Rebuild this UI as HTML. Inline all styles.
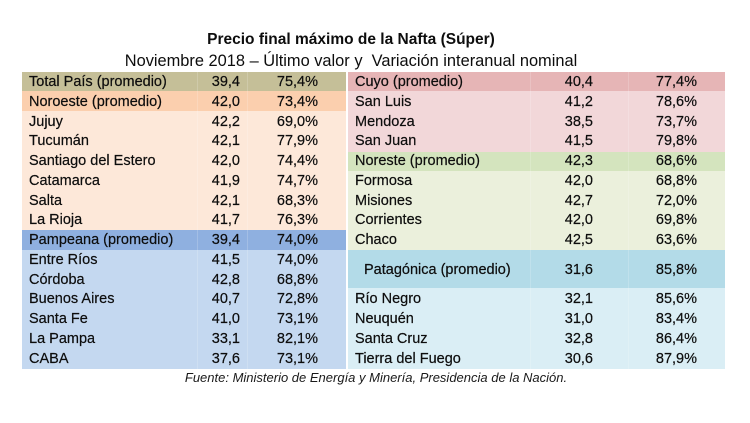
<!DOCTYPE html>
<html><head><meta charset="utf-8">
<style>
html,body{margin:0;padding:0;background:#fff;}
body{width:750px;height:423px;position:relative;overflow:hidden;font-family:"Liberation Sans",Arial,sans-serif;color:#0d0d0d;}
.t{position:absolute;white-space:nowrap;}
.bg{position:absolute;}
.r{position:absolute;height:20px;line-height:21px;font-size:14.5px;white-space:nowrap;-webkit-text-stroke:0.2px #0d0d0d;}
.n{position:absolute;}
.v{position:absolute;text-align:right;}
.vl{position:absolute;width:1px;background:rgba(255,255,255,0.18);}
</style></head><body>

<div class="t" style="left:0;width:702px;top:31px;text-align:center;font-weight:bold;font-size:15.5px;line-height:18px;">Precio final máximo de la Nafta (Súper)</div>
<div class="t" style="left:0;width:702px;top:52px;text-align:center;font-size:16.4px;line-height:19px;">Noviembre 2018 – Último valor y&nbsp; Variación interanual nominal</div>

<!-- Left table backgrounds -->
<div class="bg" style="left:22px;top:72px;width:324px;height:19px;background:#c5bf98;"></div>
<div class="bg" style="left:22px;top:91px;width:324px;height:20px;background:#fbcfae;"></div>
<div class="bg" style="left:22px;top:111px;width:324px;height:119px;background:#fde8d9;"></div>
<div class="bg" style="left:22px;top:230px;width:324px;height:20px;background:#8fb0e0;"></div>
<div class="bg" style="left:22px;top:250px;width:324px;height:119px;background:#c4d8f0;"></div>

<!-- Right table backgrounds -->
<div class="bg" style="left:348px;top:72px;width:377px;height:19px;background:#e6b5b6;"></div>
<div class="bg" style="left:348px;top:91px;width:377px;height:61px;background:#f2d7d9;"></div>
<div class="bg" style="left:348px;top:152px;width:377px;height:19px;background:#d4e4be;"></div>
<div class="bg" style="left:348px;top:171px;width:377px;height:79px;background:#ebf0dc;"></div>
<div class="bg" style="left:348px;top:250px;width:377px;height:38px;background:#b3dbe8;"></div>
<div class="bg" style="left:348px;top:288px;width:377px;height:81px;background:#daeef5;"></div>

<!-- faint column lines -->
<div class="vl" style="left:197px;top:72px;height:297px;"></div>
<div class="vl" style="left:247px;top:72px;height:297px;"></div>
<div class="vl" style="left:530px;top:72px;height:297px;"></div>
<div class="vl" style="left:628px;top:72px;height:297px;"></div>

<!-- Left rows -->
<div class="r" style="top:72px;"><span class="n" style="left:29px;">Total País (promedio)</span><span class="v" style="left:180px;width:60px;">39,4</span><span class="v" style="left:250px;width:68px;">75,4%</span></div>
<div class="r" style="top:91.8px;"><span class="n" style="left:29px;">Noroeste (promedio)</span><span class="v" style="left:180px;width:60px;">42,0</span><span class="v" style="left:250px;width:68px;">73,4%</span></div>
<div class="r" style="top:111.5px;"><span class="n" style="left:29px;">Jujuy</span><span class="v" style="left:180px;width:60px;">42,2</span><span class="v" style="left:250px;width:68px;">69,0%</span></div>
<div class="r" style="top:131.3px;"><span class="n" style="left:29px;">Tucumán</span><span class="v" style="left:180px;width:60px;">42,1</span><span class="v" style="left:250px;width:68px;">77,9%</span></div>
<div class="r" style="top:151px;"><span class="n" style="left:29px;">Santiago del Estero</span><span class="v" style="left:180px;width:60px;">42,0</span><span class="v" style="left:250px;width:68px;">74,4%</span></div>
<div class="r" style="top:170.8px;"><span class="n" style="left:29px;">Catamarca</span><span class="v" style="left:180px;width:60px;">41,9</span><span class="v" style="left:250px;width:68px;">74,7%</span></div>
<div class="r" style="top:190.5px;"><span class="n" style="left:29px;">Salta</span><span class="v" style="left:180px;width:60px;">42,1</span><span class="v" style="left:250px;width:68px;">68,3%</span></div>
<div class="r" style="top:210.3px;"><span class="n" style="left:29px;">La Rioja</span><span class="v" style="left:180px;width:60px;">41,7</span><span class="v" style="left:250px;width:68px;">76,3%</span></div>
<div class="r" style="top:230px;"><span class="n" style="left:29px;">Pampeana (promedio)</span><span class="v" style="left:180px;width:60px;">39,4</span><span class="v" style="left:250px;width:68px;">74,0%</span></div>
<div class="r" style="top:249.8px;"><span class="n" style="left:29px;">Entre Ríos</span><span class="v" style="left:180px;width:60px;">41,5</span><span class="v" style="left:250px;width:68px;">74,0%</span></div>
<div class="r" style="top:269.5px;"><span class="n" style="left:29px;">Córdoba</span><span class="v" style="left:180px;width:60px;">42,8</span><span class="v" style="left:250px;width:68px;">68,8%</span></div>
<div class="r" style="top:289.3px;"><span class="n" style="left:29px;">Buenos Aires</span><span class="v" style="left:180px;width:60px;">40,7</span><span class="v" style="left:250px;width:68px;">72,8%</span></div>
<div class="r" style="top:309px;"><span class="n" style="left:29px;">Santa Fe</span><span class="v" style="left:180px;width:60px;">41,0</span><span class="v" style="left:250px;width:68px;">73,1%</span></div>
<div class="r" style="top:328.8px;"><span class="n" style="left:29px;">La Pampa</span><span class="v" style="left:180px;width:60px;">33,1</span><span class="v" style="left:250px;width:68px;">82,1%</span></div>
<div class="r" style="top:348.5px;"><span class="n" style="left:29px;">CABA</span><span class="v" style="left:180px;width:60px;">37,6</span><span class="v" style="left:250px;width:68px;">73,1%</span></div>

<!-- Right rows -->
<div class="r" style="top:72px;"><span class="n" style="left:355px;">Cuyo (promedio)</span><span class="v" style="left:533px;width:60px;">40,4</span><span class="v" style="left:629px;width:68px;">77,4%</span></div>
<div class="r" style="top:91.8px;"><span class="n" style="left:355px;">San Luis</span><span class="v" style="left:533px;width:60px;">41,2</span><span class="v" style="left:629px;width:68px;">78,6%</span></div>
<div class="r" style="top:111.5px;"><span class="n" style="left:355px;">Mendoza</span><span class="v" style="left:533px;width:60px;">38,5</span><span class="v" style="left:629px;width:68px;">73,7%</span></div>
<div class="r" style="top:131.3px;"><span class="n" style="left:355px;">San Juan</span><span class="v" style="left:533px;width:60px;">41,5</span><span class="v" style="left:629px;width:68px;">79,8%</span></div>
<div class="r" style="top:151px;"><span class="n" style="left:355px;">Noreste (promedio)</span><span class="v" style="left:533px;width:60px;">42,3</span><span class="v" style="left:629px;width:68px;">68,6%</span></div>
<div class="r" style="top:170.8px;"><span class="n" style="left:355px;">Formosa</span><span class="v" style="left:533px;width:60px;">42,0</span><span class="v" style="left:629px;width:68px;">68,8%</span></div>
<div class="r" style="top:190.5px;"><span class="n" style="left:355px;">Misiones</span><span class="v" style="left:533px;width:60px;">42,7</span><span class="v" style="left:629px;width:68px;">72,0%</span></div>
<div class="r" style="top:210.3px;"><span class="n" style="left:355px;">Corrientes</span><span class="v" style="left:533px;width:60px;">42,0</span><span class="v" style="left:629px;width:68px;">69,8%</span></div>
<div class="r" style="top:230px;"><span class="n" style="left:355px;">Chaco</span><span class="v" style="left:533px;width:60px;">42,5</span><span class="v" style="left:629px;width:68px;">63,6%</span></div>
<div class="r" style="top:259.5px;"><span class="n" style="left:364px;">Patagónica (promedio)</span><span class="v" style="left:533px;width:60px;">31,6</span><span class="v" style="left:629px;width:68px;">85,8%</span></div>
<div class="r" style="top:289.3px;"><span class="n" style="left:355px;">Río Negro</span><span class="v" style="left:533px;width:60px;">32,1</span><span class="v" style="left:629px;width:68px;">85,6%</span></div>
<div class="r" style="top:309px;"><span class="n" style="left:355px;">Neuquén</span><span class="v" style="left:533px;width:60px;">31,0</span><span class="v" style="left:629px;width:68px;">83,4%</span></div>
<div class="r" style="top:328.8px;"><span class="n" style="left:355px;">Santa Cruz</span><span class="v" style="left:533px;width:60px;">32,8</span><span class="v" style="left:629px;width:68px;">86,4%</span></div>
<div class="r" style="top:348.5px;"><span class="n" style="left:355px;">Tierra del Fuego</span><span class="v" style="left:533px;width:60px;">30,6</span><span class="v" style="left:629px;width:68px;">87,9%</span></div>

<div class="t" style="left:0;width:752px;top:370px;text-align:center;font-style:italic;font-size:13px;line-height:16px;color:#1a1a1a;">Fuente: Ministerio de Energía y Minería, Presidencia de la Nación.</div>

</body></html>
